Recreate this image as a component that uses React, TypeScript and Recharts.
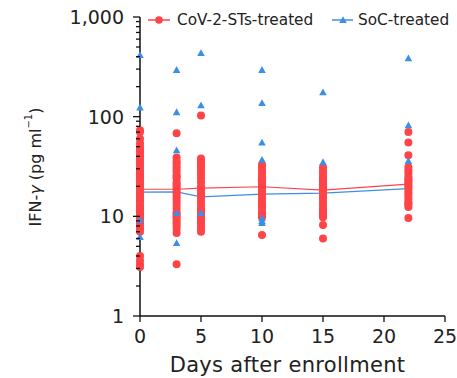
import React from 'react';
import { ComposedChart, Scatter, Line, XAxis, YAxis, Legend } from 'recharts';

const days = [0, 3, 5, 10, 15, 22];

const redDay0 = [73, 70, 60, 54, 50, 47, 45, 42, 40, 38, 36, 34, 32, 30, 28, 27, 26, 25, 24, 23, 22, 21, 20, 19, 18, 17, 16, 15, 14.5, 14, 13, 12.5, 12, 11.5, 11, 10.5, 10, 9.5, 9, 8.5, 8, 7.5, 7, 4, 3.6, 3.3, 3.1];
const redDay3 = [68, 39, 36, 34, 32, 30, 28, 26, 25, 24, 22, 21, 20, 19, 18, 17, 16, 15, 14, 13, 12, 11, 10.5, 10, 9.5, 9, 8.5, 8, 7.5, 6.8, 3.3];
const redDay5 = [103, 38, 36, 34, 32, 30, 28, 26, 24, 22, 20, 19, 18, 17, 16, 15, 14, 13, 12, 11.5, 11, 10.5, 10, 9.5, 9, 8.5, 8, 7.5, 7];
const redDay10 = [33, 31, 29, 27, 25, 24, 23, 22, 21, 20, 19, 18, 17, 16, 15, 14, 13, 12.5, 12, 11, 10.5, 10, 9.8, 6.5];
const redDay15 = [31, 29, 27, 25, 24, 23, 22, 21, 20, 19, 18, 17, 16, 15, 14, 13, 12, 11.5, 11, 10.5, 10, 9.8, 8.2, 6.0];
const redDay22 = [70, 55, 41, 31, 29, 27, 25, 24, 23, 22, 21, 20, 19, 18, 17, 16, 15, 14, 13.5, 13, 12.4, 9.6];
const redByDay = [redDay0, redDay3, redDay5, redDay10, redDay15, redDay22];

const blueDay0 = [415, 124, 9.2, 6.2];
const blueDay3 = [295, 111, 46, 10.8, 5.4];
const blueDay5 = [435, 130, 10.8];
const blueDay10 = [295, 137, 55, 37, 9.6, 9.0, 8.6];
const blueDay15 = [176, 35];
const blueDay22 = [385, 82, 36];
const blueByDay = [blueDay0, blueDay3, blueDay5, blueDay10, blueDay15, blueDay22];

const redMeans = [18.7, 18.7, 19.2, 19.8, 18.3, 21];
const blueMeans = [17.5, 17.6, 15.7, 16.7, 17.1, 19.0];

const xTicks = [0, 5, 10, 15, 20, 25];
const yTicks = [1, 2, 3, 4, 5, 6, 7, 8, 9, 10, 20, 30, 40, 50, 60, 70, 80, 90, 100, 200, 300, 400, 500, 600, 700, 800, 900, 1000];

const seriesNames = ['CoV-2-STs-treated', 'SoC-treated'];

const RED = '#ff4448';
const BLUE = '#3d8fe6';
const FONT = '"DejaVu Sans", "Noto Sans", Arial, sans-serif';

const redPoints = days.flatMap((d, i) => redByDay[i].map((v) => ({ x: d, y: v })));
const bluePoints = days.flatMap((d, i) => blueByDay[i].map((v) => ({ x: d, y: v })));
const redLine = days.map((d, i) => ({ x: d, y: redMeans[i] }));
const blueLine = days.map((d, i) => ({ x: d, y: blueMeans[i] }));

const Dot = (props: any) => {
  const { cx, cy } = props;
  if (cx == null || cy == null) return null;
  return <circle cx={cx} cy={cy} r={4} fill={RED} />;
};

const Tri = (props: any) => {
  const { cx, cy } = props;
  if (cx == null || cy == null) return null;
  const s = 3.8;
  return <polygon points={`${cx},${cy - s} ${cx - s},${cy + s * 0.8} ${cx + s},${cy + s * 0.8}`} fill={BLUE} />;
};

const YTick = (props: any) => {
  const { x, y, payload } = props;
  const v = payload.value;
  const lg = Math.log10(v);
  const major = Math.abs(lg - Math.round(lg)) < 1e-9;
  const len = major ? 7 : 4;
  return (
    <g>
      <line x1={x} x2={x - len} y1={y} y2={y} stroke="#111" strokeWidth={1.3} />
      {major && (
        <text x={x - 16} y={y} textAnchor="end" dominantBaseline="central" fontSize={19} fill="#222" fontFamily={FONT}>
          {v.toLocaleString('en-US')}
        </text>
      )}
    </g>
  );
};

const XLabel = (props: any) => {
  const vb = props.viewBox || { x: 140, y: 316, width: 305, height: 62 };
  const cx = vb.x + vb.width / 2 - 5;
  const by = vb.y + vb.height - 6;
  return (
    <text x={cx} y={by} textAnchor="middle" fontSize={21} letterSpacing={0.3} fill="#222" fontFamily={FONT}>
      Days after enrollment
    </text>
  );
};

const YLabel = () => {
  const cx = 35;
  const cy = 167;
  return (
    <text
      x={cx}
      y={cy}
      transform={`rotate(-90, ${cx}, ${cy})`}
      textAnchor="middle"
      dominantBaseline="central"
      fontSize={16}
      fill="#222"
      fontFamily={FONT}
    >
      <tspan>IFN-</tspan>
      <tspan fontStyle="italic">γ</tspan>
      <tspan> (pg ml</tspan>
      <tspan dy={-7} fontSize={10}>−1</tspan>
      <tspan dy={7}>)</tspan>
    </text>
  );
};

const LegendContent = () => (
  <svg width={320} height={20}>
    <line x1={8} x2={30} y1={10} y2={10} stroke={RED} strokeWidth={1.5} />
    <circle cx={19} cy={10} r={3.8} fill={RED} />
    <text x={37} y={10} dominantBaseline="central" fontSize={15.3} fill="#222" fontFamily={FONT}>
      {seriesNames[0]}
    </text>
    <line x1={192} x2={213} y1={10} y2={10} stroke={BLUE} strokeWidth={1.5} />
    <polygon points="203,6.2 199.2,13 206.8,13" fill={BLUE} />
    <text x={218} y={10} dominantBaseline="central" fontSize={15.3} fill="#222" fontFamily={FONT}>
      {seriesNames[1]}
    </text>
  </svg>
);

export default function App() {
  return (
    <div style={{ position: 'absolute', left: 0, top: 0 }}>
      <ComposedChart width={457} height={378} margin={{ top: 17, right: 12, left: 0, bottom: 0 }}>
        <XAxis
          type="number"
          dataKey="x"
          domain={[0, 25]}
          ticks={xTicks}
          interval={0}
          height={62}
          tickSize={6}
          tickMargin={8}
          axisLine={{ stroke: '#111', strokeWidth: 1.5 }}
          tickLine={{ stroke: '#111', strokeWidth: 1.3 }}
          tick={{ fontSize: 19, fill: '#222', fontFamily: FONT }}
          label={<XLabel />}
        />
        <YAxis
          type="number"
          dataKey="y"
          scale="log"
          domain={[1, 1000]}
          allowDataOverflow
          ticks={yTicks}
          interval={0}
          width={140}
          tickSize={0}
          tickMargin={0}
          tickLine={false}
          axisLine={{ stroke: '#111', strokeWidth: 1.5 }}
          tick={<YTick />}
          label={<YLabel />}
        />
        <Legend
          layout="horizontal"
          verticalAlign="middle"
          align="center"
          wrapperStyle={{ top: 10, left: 140, width: 320, height: 20 }}
          content={<LegendContent />}
        />
        <Scatter name={seriesNames[0]} data={redPoints} shape={<Dot />} isAnimationActive={false} />
        <Scatter name={seriesNames[1]} data={bluePoints} shape={<Tri />} isAnimationActive={false} />
        <Line data={redLine} dataKey="y" stroke={RED} strokeWidth={1.2} dot={false} isAnimationActive={false} />
        <Line data={blueLine} dataKey="y" stroke={BLUE} strokeWidth={1.2} dot={false} isAnimationActive={false} />
      </ComposedChart>
    </div>
  );
}
